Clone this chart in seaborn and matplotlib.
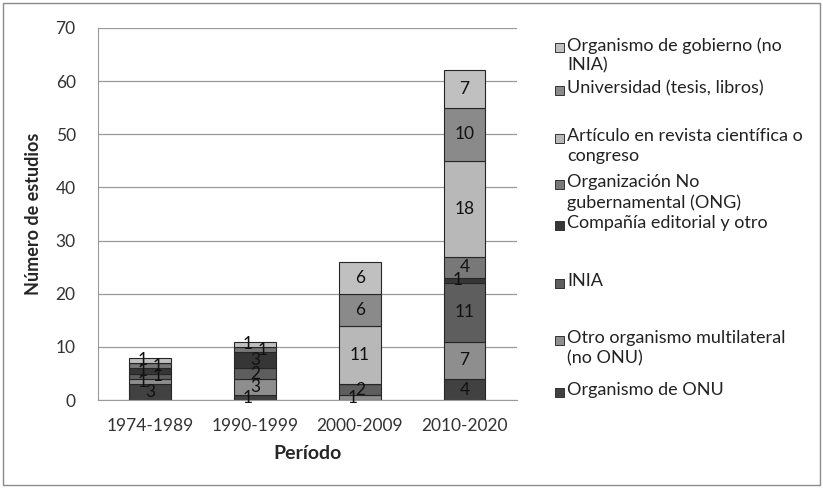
import numpy as np
import pandas as pd
import matplotlib
matplotlib.use('Agg')
import matplotlib.pyplot as plt
from matplotlib.patches import Rectangle
import seaborn as sns

periods = ["1974-1989", "1990-1999", "2000-2009", "2010-2020"]

# series listed from top of the legend to bottom of the stack
sources = [
    "Organismo de gobierno (no\nINIA)",
    "Universidad (tesis, libros)",
    "Artículo en revista científica o\ncongreso",
    "Organización No\ngubernamental (ONG)",
    "Compañía editorial y otro",
    "INIA",
    "Otro organismo multilateral\n(no ONU)",
    "Organismo de ONU",
]
gobierno = [1, 1, 6, 7]
universidad = [0, 0, 6, 10]
articulo = [0, 0, 11, 18]
ong = [1, 1, 0, 4]
compania = [1, 3, 0, 1]
inia = [1, 2, 2, 11]
otro_multilateral = [1, 3, 1, 7]
onu = [3, 1, 0, 4]

colors = ["#c0c0c0", "#8a8a8a", "#b8b8b8", "#787878",
          "#363636", "#5e5e5e", "#8e8e8e", "#414141"]

values = [gobierno, universidad, articulo, ong, compania, inia, otro_multilateral, onu]
rows = []
for src, vals in zip(sources, values):
    for p, v in zip(periods, vals):
        rows.append({"period": p, "source": src, "n": v})
df = pd.DataFrame(rows)

sns.set_style("white")
plt.rcParams['font.family'] = ['Lato', 'DejaVu Sans']

fig = plt.figure(figsize=(8.23, 4.88), dpi=100)
ax = fig.add_axes([0.119, 0.180, 0.509, 0.763])

# stack from the bottom: ONU first
stack_order = sources[::-1]
bottom = np.zeros(len(periods))
x = np.arange(len(periods))
small_count = np.zeros(len(periods), dtype=int)
for src in stack_order:
    vals = np.array(values[sources.index(src)], dtype=float)
    col = colors[sources.index(src)]
    sns.barplot(x=x, y=vals, ax=ax, color=col, width=0.4, native_scale=True,
                bottom=bottom, edgecolor="#262626", linewidth=0.8,
                saturation=1, errorbar=None)
    for i, (xi, v, b) in enumerate(zip(x, vals, bottom)):
        if v <= 0:
            continue
        dx = 0.0
        if v <= 1:
            # thin slices: nudge labels sideways like the spreadsheet does
            dx = (-0.07, 0.07)[small_count[i] % 2]
            small_count[i] += 1
        ax.text(xi + dx, b + v / 2, f"{int(v)}", ha='center', va='center',
                fontsize=12.5, color="#111111")
    bottom += vals

ax.set_xlim(-0.5, len(periods) - 0.5)
ax.set_ylim(0, 70)
ax.set_yticks(range(0, 71, 10))
ax.set_xticks(x)
ax.set_xticklabels(periods)
ax.tick_params(axis='both', labelsize=12.5, colors="#333333", length=0)
ax.tick_params(axis='y', pad=16)
ax.tick_params(axis='x', pad=13)
ax.yaxis.grid(True, color="#9a9a9a", linewidth=0.9)
ax.set_axisbelow(True)
for side in ["top", "right"]:
    ax.spines[side].set_visible(False)
ax.spines["left"].set_color("#9a9a9a")
ax.spines["bottom"].set_color("#9a9a9a")
ax.set_xlabel("Período", fontsize=14, fontweight='bold', labelpad=8)
ax.set_ylabel("Número de estudios", fontsize=13, fontweight='bold', labelpad=10)

# legend entries laid out like the spreadsheet legend
W, H = 823, 488
legend_y = [47, 90, 138, 184, 225, 283, 340, 392]
for src, col, yp in zip(sources, colors, legend_y):
    fig.patches.append(Rectangle((555 / W, 1 - (yp + 4.5) / H), 9 / W, 9 / H,
                                 transform=fig.transFigure, facecolor=col,
                                 edgecolor="#333333", linewidth=0.7))
    fig.text(567 / W, 1 - (yp - 10) / H, src, ha='left', va='top',
             fontsize=13, color="#222222", linespacing=1.3)

# outer chart border
fig.patches.append(Rectangle((0.004, 0.006), 0.992, 0.988, transform=fig.transFigure,
                             fill=False, edgecolor="#8a8a8a", linewidth=1))

fig.savefig("out.png", dpi=100)
